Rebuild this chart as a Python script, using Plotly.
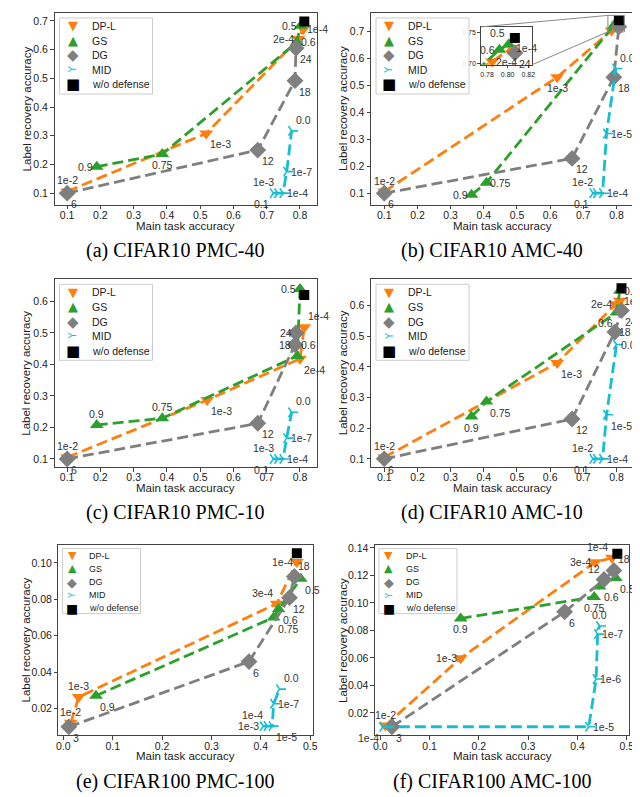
import plotly.graph_objects as go

SANS = "Liberation Sans"
SERIF = "Liberation Serif"
SYMFONT = "DejaVu Sans"
NAMES = ["DP-L", "GS", "DG", "MID", "w/o defense"]
COL = {"DP-L": "#ff7f0e", "GS": "#2ca02c", "DG": "#7f7f7f", "MID": "#17becf", "w/o defense": "#000000"}
SYM = {"DP-L": "triangle-down", "GS": "triangle-up", "DG": "diamond", "MID": "y-right", "w/o defense": "square"}
MSIZE = {"DP-L": 12, "GS": 12, "DG": 13, "MID": 8, "w/o defense": 10}
# legend glyphs (text symbols) and their font sizes
LEG_GLYPH = {"DP-L": ("\u25BC", 13, 0), "GS": ("\u25B2", 13, 0), "DG": ("\u25C6", 15, 0),
             "MID": ("Y", 10, -90), "w/o defense": ("\u25A0", 15, 0)}

# ---------------- (a) CIFAR10 PMC-40 ----------------
a_dpl_x = [0.100, 0.518, 0.795, 0.810]
a_dpl_y = [0.106, 0.308, 0.637, 0.671]
a_dpl_lab = ["1e-2", "1e-3", "2e-4", "1e-4"]
a_gs_x = [0.189, 0.386, 0.790, 0.802]
a_gs_y = [0.192, 0.236, 0.625, 0.683]
a_gs_lab = ["0.9", "0.75", "0.6", "0.5"]
a_dg_x = [0.100, 0.673, 0.785, 0.788]
a_dg_y = [0.100, 0.250, 0.492, 0.605]
a_dg_lab = ["6", "12", "18", "24"]
a_mid_x = [0.720, 0.733, 0.749, 0.760, 0.775]
a_mid_y = [0.100, 0.100, 0.100, 0.175, 0.317]
a_mid_lab = ["0.1", "1e-3", "1e-4", "1e-7", "0.0"]
a_nd_x = [0.813]
a_nd_y = [0.698]

# ---------------- (b) CIFAR10 AMC-40 ----------------
b_dpl_x = [0.100, 0.621, 0.785, 0.804]
b_dpl_y = [0.106, 0.530, 0.703, 0.725]
b_dpl_lab = ["1e-2", "1e-3", "2e-4", "1e-4"]
b_gs_x = [0.363, 0.408, 0.792, 0.801]
b_gs_y = [0.094, 0.139, 0.722, 0.731]
b_gs_lab = ["0.9", "0.75", "0.6", "0.5"]
b_dg_x = [0.100, 0.666, 0.792, 0.807]
b_dg_y = [0.100, 0.229, 0.530, 0.717]
b_dg_lab = ["6", "12", "18", "24"]
b_mid_x = [0.729, 0.740, 0.758, 0.770, 0.798]
b_mid_y = [0.100, 0.100, 0.100, 0.321, 0.562]
b_mid_lab = ["0.1", "1e-2", "1e-4", "1e-5", "0.0"]
b_nd_x = [0.807]
b_nd_y = [0.741]

# ---------------- (c) CIFAR10 PMC-10 ----------------
c_dpl_x = [0.100, 0.521, 0.800, 0.813]
c_dpl_y = [0.105, 0.287, 0.418, 0.518]
c_dpl_lab = ["1e-2", "1e-3", "2e-4", "1e-4"]
c_gs_x = [0.189, 0.386, 0.792, 0.800]
c_gs_y = [0.208, 0.229, 0.427, 0.639]
c_gs_lab = ["0.9", "0.75", "0.6", "0.5"]
c_dg_x = [0.100, 0.673, 0.785, 0.788]
c_dg_y = [0.100, 0.213, 0.462, 0.500]
c_dg_lab = ["6", "12", "18", "24"]
c_mid_x = [0.720, 0.733, 0.749, 0.760, 0.775]
c_mid_y = [0.100, 0.100, 0.100, 0.166, 0.248]
c_mid_lab = ["0.1", "1e-3", "1e-4", "1e-7", "0.0"]
c_nd_x = [0.813]
c_nd_y = [0.620]

# ---------------- (d) CIFAR10 AMC-10 ----------------
d_dpl_x = [0.100, 0.621, 0.798, 0.810]
d_dpl_y = [0.105, 0.413, 0.605, 0.616]
d_dpl_lab = ["1e-2", "1e-3", "2e-4", "1e-4"]
d_gs_x = [0.363, 0.408, 0.800, 0.810]
d_gs_y = [0.238, 0.287, 0.578, 0.649]
d_gs_lab = ["0.9", "0.75", "0.6", "0.5"]
d_dg_x = [0.100, 0.666, 0.795, 0.815]
d_dg_y = [0.100, 0.230, 0.514, 0.584]
d_dg_lab = ["6", "12", "18", "24"]
d_mid_x = [0.729, 0.740, 0.758, 0.770, 0.800]
d_mid_y = [0.100, 0.100, 0.100, 0.244, 0.473]
d_mid_lab = ["0.1", "1e-2", "1e-4", "1e-5", "0.0"]
d_nd_x = [0.815]
d_nd_y = [0.657]

# ---------------- (e) CIFAR100 PMC-100 ----------------
e_dpl_x = [0.015, 0.031, 0.432, 0.473]
e_dpl_y = [0.0122, 0.0264, 0.0776, 0.1004]
e_dpl_lab = ["1e-2", "1e-3", "3e-4", "1e-4"]
e_gs_x = [0.066, 0.426, 0.436, 0.481]
e_gs_y = [0.0271, 0.0700, 0.0745, 0.0913]
e_gs_lab = ["0.9", "0.75", "0.6", "0.5"]
e_dg_x = [0.011, 0.376, 0.458, 0.468]
e_dg_y = [0.0100, 0.0458, 0.0809, 0.0925]
e_dg_lab = ["3", "6", "12", "18"]
e_mid_x = [0.405, 0.413, 0.423, 0.426, 0.438]
e_mid_y = [0.0104, 0.0105, 0.0104, 0.0227, 0.0307]
e_mid_lab = ["1e-3", "1e-4", "1e-5", "1e-7", "0.0"]
e_nd_x = [0.473]
e_nd_y = [0.1053]

# ---------------- (f) CIFAR100 AMC-100 ----------------
f_dpl_x = [0.010, 0.163, 0.436, 0.470]
f_dpl_y = [0.0108, 0.0598, 0.1296, 0.1328]
f_dpl_lab = ["1e-2", "1e-3", "3e-4", "1e-4"]
f_gs_x = [0.163, 0.434, 0.445, 0.478]
f_gs_y = [0.0887, 0.1043, 0.1120, 0.1181]
f_gs_lab = ["0.9", "0.75", "0.6", "0.5"]
f_dg_x = [0.0235, 0.374, 0.454, 0.474]
f_dg_y = [0.0099, 0.0935, 0.1170, 0.1236]
f_dg_lab = ["3", "6", "12", "18"]
f_mid_x = [0.005, 0.423, 0.438, 0.441, 0.445]
f_mid_y = [0.0099, 0.0099, 0.0446, 0.0773, 0.0832]
f_mid_lab = ["1e-4", "1e-5", "1e-6", "1e-7", "0.0"]
f_nd_x = [0.481]
f_nd_y = [0.1357]

captions = ["(a) CIFAR10 PMC-40", "(b) CIFAR10 AMC-40", "(c) CIFAR10 PMC-10",
            "(d) CIFAR10 AMC-10", "(e) CIFAR100 PMC-100", "(f) CIFAR100 AMC-100"]
x_ticks_10 = [0.1, 0.2, 0.3, 0.4, 0.5, 0.6, 0.7, 0.8]
x_ticks_100 = [0.0, 0.1, 0.2, 0.3, 0.4, 0.5]
y_ticks_a = [0.1, 0.2, 0.3, 0.4, 0.5, 0.6, 0.7]
y_ticks_c = [0.1, 0.2, 0.3, 0.4, 0.5, 0.6]
y_ticks_e = [0.02, 0.04, 0.06, 0.08, 0.10]
y_ticks_f = [0.02, 0.04, 0.06, 0.08, 0.10, 0.12, 0.14]
inset_x_ticks = [0.78, 0.80, 0.82]
inset_y_ticks = [0.70, 0.75]

# ---------------- label placement (style) ----------------
a_pos = {"DP-L": ["top center", "bottom right", "middle left", "middle right"],
         "GS": ["middle left", "bottom center", "middle right", "middle left"],
         "DG": ["bottom right"] * 4,
         "MID": ["bottom left", "top left", "middle right", "middle right", "top right"]}
b_pos = {"DP-L": ["top center", "bottom center", "middle right", "middle right"],
         "GS": ["middle left", "middle right", "middle left", "top left"],
         "DG": ["bottom right"] * 4,
         "MID": ["bottom left", "top left", "middle right", "middle right", "top right"]}
c_pos = {"DP-L": ["top center", "bottom right", "bottom right", "top right"],
         "GS": ["top center", "top center", "top right", "middle left"],
         "DG": ["bottom right", "bottom right", "middle left", "middle left"],
         "MID": ["bottom left", "top left", "middle right", "middle right", "top right"]}
d_pos = {"DP-L": ["top center", "bottom right", "middle left", "middle right"],
         "GS": ["bottom center", "bottom right", "bottom left", "middle right"],
         "DG": ["bottom right", "bottom right", "middle right", "bottom right"],
         "MID": ["bottom left", "top left", "middle right", "bottom right", "middle right"]}
e_pos = {"DP-L": ["top center", "top center", "top left", "middle left"],
         "GS": ["bottom right"] * 4,
         "DG": ["bottom right", "bottom right", "bottom right", "top right"],
         "MID": ["middle left", "top left", "bottom right", "middle right", "top right"]}
f_pos = {"DP-L": ["top center", "middle left", "middle left", "top left"],
         "GS": ["bottom center", "bottom center", "bottom right", "bottom right"],
         "DG": ["bottom right", "bottom right", "top left", "top right"],
         "MID": ["bottom left", "middle right", "middle right", "middle right", "top center"]}

BIG_LEG = dict(box=(5, 5, 98, 81), y0=13, dy=14.6, sx=18, tx=35, font=10.5, gscale=1.0)
SMALL_LEG = dict(box=(4, 4, 82, 69), y0=11, dy=13.2, sx=14, tx=29, font=9, gscale=0.85)

panels = [
    dict(s={"DP-L": (a_dpl_x, a_dpl_y, a_dpl_lab), "GS": (a_gs_x, a_gs_y, a_gs_lab),
            "DG": (a_dg_x, a_dg_y, a_dg_lab), "MID": (a_mid_x, a_mid_y, a_mid_lab)},
         nd=(a_nd_x, a_nd_y), pos=a_pos, xr=[0.062, 0.85], yr=[0.0595, 0.7277],
         xt=x_ticks_10, yt=y_ticks_a, fmt=".1f", dx=[45, 310], dy=[2, 195], leg=BIG_LEG, yts=28),
    dict(s={"DP-L": (b_dpl_x, b_dpl_y, b_dpl_lab), "GS": (b_gs_x, b_gs_y, b_gs_lab),
            "DG": (b_dg_x, b_dg_y, b_dg_lab), "MID": (b_mid_x, b_mid_y, b_mid_lab)},
         nd=(b_nd_x, b_nd_y), pos=b_pos, xr=[0.06, 0.85], yr=[0.057, 0.768],
         xt=x_ticks_10, yt=y_ticks_a, fmt=".1f", dx=[365, 630], dy=[2, 195], leg=BIG_LEG, yts=28),
    dict(s={"DP-L": (c_dpl_x, c_dpl_y, c_dpl_lab), "GS": (c_gs_x, c_gs_y, c_gs_lab),
            "DG": (c_dg_x, c_dg_y, c_dg_lab), "MID": (c_mid_x, c_mid_y, c_mid_lab)},
         nd=(c_nd_x, c_nd_y), pos=c_pos, xr=[0.062, 0.85], yr=[0.074, 0.670],
         xt=x_ticks_10, yt=y_ticks_c, fmt=".1f", dx=[45, 310], dy=[270, 459], leg=BIG_LEG, yts=28),
    dict(s={"DP-L": (d_dpl_x, d_dpl_y, d_dpl_lab), "GS": (d_gs_x, d_gs_y, d_gs_lab),
            "DG": (d_dg_x, d_dg_y, d_dg_lab), "MID": (d_mid_x, d_mid_y, d_mid_lab)},
         nd=(d_nd_x, d_nd_y), pos=d_pos, xr=[0.06, 0.85], yr=[0.073, 0.686],
         xt=x_ticks_10, yt=y_ticks_c, fmt=".1f", dx=[365, 630], dy=[270, 459], leg=BIG_LEG, yts=28),
    dict(s={"DP-L": (e_dpl_x, e_dpl_y, e_dpl_lab), "GS": (e_gs_x, e_gs_y, e_gs_lab),
            "DG": (e_dg_x, e_dg_y, e_dg_lab), "MID": (e_mid_x, e_mid_y, e_mid_lab)},
         nd=(e_nd_x, e_nd_y), pos=e_pos, xr=[-0.01, 0.505], yr=[0.0053, 0.110],
         xt=x_ticks_100, yt=y_ticks_e, fmt=".2f", dx=[49, 306], dy=[537, 729], leg=SMALL_LEG, yts=32),
    dict(s={"DP-L": (f_dpl_x, f_dpl_y, f_dpl_lab), "GS": (f_gs_x, f_gs_y, f_gs_lab),
            "DG": (f_dg_x, f_dg_y, f_dg_lab), "MID": (f_mid_x, f_mid_y, f_mid_lab)},
         nd=(f_nd_x, f_nd_y), pos=f_pos, xr=[-0.011, 0.505], yr=[0.0036, 0.1424],
         xt=x_ticks_100, yt=y_ticks_f, fmt=".2f", dx=[369, 626], dy=[537, 729], leg=SMALL_LEG, yts=32),
]

W, H = 640, 797
INSET_XR = [0.774, 0.8238]
INSET_YR = [0.698, 0.759]
INSET_DX = [476, 528]
INSET_DY = [16, 54]

DASH = "11px,5px"
LW = 2.8
LABEL_FONT = dict(family=SANS, size=10.5, color="#333333")
TXT = "#222222"
POS_MAP = {
    "top center": ("center", "bottom", 0, 1), "top left": ("right", "bottom", -1, 1),
    "top right": ("left", "bottom", 1, 1), "middle left": ("right", "middle", -1, 0),
    "middle right": ("left", "middle", 1, 0), "bottom left": ("right", "top", -1, -1),
    "bottom center": ("center", "top", 0, -1), "bottom right": ("left", "top", 1, -1),
}

fig = go.Figure()
layout = dict(width=W, height=H, margin=dict(l=0, r=0, t=0, b=0), showlegend=False,
              paper_bgcolor="white", plot_bgcolor="white",
              font=dict(family=SANS, size=10.5, color=TXT))
annotations = []
shapes = []

axis_style = dict(showline=True, mirror=True, linecolor="#444444", linewidth=1,
                  ticks="outside", ticklen=3.5, tickwidth=1, tickcolor="#444444",
                  showgrid=False, zeroline=False,
                  tickfont=dict(family=SANS, size=10.5, color=TXT))


def inside_inset(x, y):
    return INSET_XR[0] <= x <= INSET_XR[1] and INSET_YR[0] <= y <= INSET_YR[1]


def add_panel_traces(p, xa, ya, label_filter):
    for name in ["DP-L", "GS", "DG", "MID"]:
        xs, ys, labs = p["s"][name]
        fig.add_trace(go.Scatter(x=xs, y=ys, mode="lines", xaxis=xa, yaxis=ya,
                                 line=dict(color=COL[name], width=LW, dash=DASH),
                                 hoverinfo="skip"))
        marker = dict(symbol=SYM[name], size=MSIZE[name], color=COL[name])
        if name == "MID":
            marker["line"] = dict(width=1.6, color=COL[name])
        fig.add_trace(go.Scatter(x=xs, y=ys, mode="markers", xaxis=xa, yaxis=ya,
                                 marker=marker, name=name, text=labs, cliponaxis=False))
        for x, y, lab, pos in zip(xs, ys, labs, p["pos"][name]):
            if not label_filter(x, y):
                continue
            xan, yan, sx, sy = POS_MAP[pos]
            annotations.append(dict(text=lab, x=x, y=y, xref=xa, yref=ya, showarrow=False,
                                    xanchor=xan, yanchor=yan, xshift=2 * sx, yshift=3 * sy,
                                    font=LABEL_FONT))
    fig.add_trace(go.Scatter(x=p["nd"][0], y=p["nd"][1], mode="markers", xaxis=xa, yaxis=ya,
                             marker=dict(symbol=SYM["w/o defense"], size=MSIZE["w/o defense"],
                                         color=COL["w/o defense"]),
                             name="w/o defense"))


def add_legend(xa, ya, lg):
    bx0, by0, bx1, by1 = lg["box"]
    shapes.append(dict(type="rect", xref=xa + " domain", yref=ya + " domain",
                       xsizemode="pixel", ysizemode="pixel", xanchor=0, yanchor=1,
                       x0=bx0, x1=bx1, y0=-by0, y1=-by1,
                       fillcolor="rgba(255,255,255,0.85)", line=dict(color="#cccccc", width=1)))
    for j, name in enumerate(NAMES):
        yy = lg["y0"] + j * lg["dy"]
        g, gs, ang = LEG_GLYPH[name]
        annotations.append(dict(text=g, xref=xa + " domain", yref=ya + " domain", x=0, y=1,
                                xshift=lg["sx"], yshift=-yy, xanchor="center", yanchor="middle",
                                showarrow=False, textangle=ang,
                                font=dict(family=SYMFONT, size=gs * lg["gscale"], color=COL[name])))
        annotations.append(dict(text=name, xref=xa + " domain", yref=ya + " domain", x=0, y=1,
                                xshift=lg["tx"], yshift=-yy, xanchor="left", yanchor="middle",
                                showarrow=False, font=dict(family=SANS, size=lg["font"], color=TXT)))


for i, p in enumerate(panels):
    k = i + 1
    sfx = "" if k == 1 else str(k)
    xa, ya = "x" + sfx, "y" + sfx
    filt = (lambda x, y: not inside_inset(x, y)) if k == 2 else (lambda x, y: True)
    add_panel_traces(p, xa, ya, filt)

    dx = [p["dx"][0] / W, p["dx"][1] / W]
    dy = [1 - p["dy"][1] / H, 1 - p["dy"][0] / H]
    layout["xaxis" + sfx] = dict(axis_style, domain=dx, range=p["xr"], tickvals=p["xt"],
                                 tickformat=".1f", anchor=ya, ticklabelstandoff=-3)
    layout["yaxis" + sfx] = dict(axis_style, domain=dy, range=p["yr"], tickvals=p["yt"],
                                 tickformat=p["fmt"], anchor=xa)
    add_legend(xa, ya, p["leg"])
    annotations.append(dict(text="Main task accuracy", xref=xa + " domain", yref=ya + " domain",
                            x=0.5, y=0, yshift=-21, showarrow=False, xanchor="center",
                            yanchor="middle", font=dict(family=SANS, size=11.5, color=TXT)))
    annotations.append(dict(text="Label recovery accuracy", xref=xa + " domain", yref=ya + " domain",
                            x=0, y=0.5, xshift=-p["yts"], textangle=-90, showarrow=False,
                            xanchor="center", yanchor="middle",
                            font=dict(family=SANS, size=11.5, color=TXT)))
    cx = (p["dx"][0] + p["dx"][1]) / 2 - 10
    annotations.append(dict(text=captions[i], xref="paper", yref="paper",
                            x=cx / W, y=1 - (p["dy"][1] + 46) / H, showarrow=False,
                            xanchor="center", yanchor="middle",
                            font=dict(family=SERIF, size=20, color="#000000")))

# ---------------- inset for panel (b) ----------------
pb = panels[1]
add_panel_traces(pb, "x7", "y7", inside_inset)
ix = [INSET_DX[0] / W, INSET_DX[1] / W]
iy = [1 - INSET_DY[1] / H, 1 - INSET_DY[0] / H]
inset_style = dict(axis_style)
inset_style["tickfont"] = dict(family=SANS, size=7, color=TXT)
inset_style["ticklen"] = 2.5
layout["xaxis7"] = dict(inset_style, domain=ix, range=INSET_XR, tickvals=inset_x_ticks,
                        tickformat=".2f", anchor="y7")
layout["yaxis7"] = dict(inset_style, domain=iy, range=INSET_YR, tickvals=inset_y_ticks,
                        tickformat=".2f", anchor="x7")

shapes.append(dict(type="rect", xref="x2", yref="y2", x0=INSET_XR[0], x1=INSET_XR[1],
                   y0=INSET_YR[0], y1=INSET_YR[1], line=dict(color="#888888", width=1)))


def to_paper(x, y, p):
    dx = [p["dx"][0] / W, p["dx"][1] / W]
    dy = [1 - p["dy"][1] / H, 1 - p["dy"][0] / H]
    px = dx[0] + (x - p["xr"][0]) / (p["xr"][1] - p["xr"][0]) * (dx[1] - dx[0])
    py = dy[0] + (y - p["yr"][0]) / (p["yr"][1] - p["yr"][0]) * (dy[1] - dy[0])
    return px, py


tl = to_paper(INSET_XR[0], INSET_YR[1], pb)
bl = to_paper(INSET_XR[0], INSET_YR[0], pb)
shapes.append(dict(type="line", xref="paper", yref="paper", x0=ix[0], y0=iy[1], x1=tl[0], y1=tl[1],
                   line=dict(color="#888888", width=1)))
shapes.append(dict(type="line", xref="paper", yref="paper", x0=ix[1], y0=iy[0], x1=bl[0], y1=bl[1],
                   line=dict(color="#888888", width=1)))

layout["annotations"] = annotations
layout["shapes"] = shapes
fig.update_layout(**layout)
fig.write_html("out.html")
